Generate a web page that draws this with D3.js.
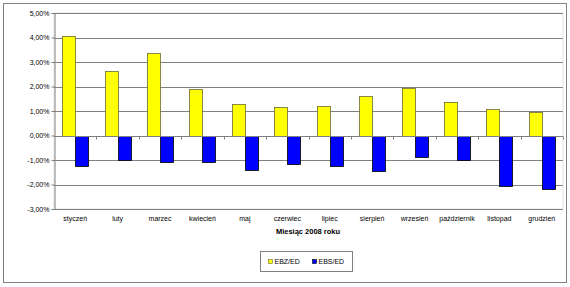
<!DOCTYPE html>
<html>
<head>
<meta charset="utf-8">
<script src="https://cdn.jsdelivr.net/npm/d3@7"></script>
<style>
  body { margin: 0; background: #fff; }
  text { font-family: "Liberation Sans", Arial, sans-serif; }
</style>
</head>
<body>
<div id="chart"></div>
<script>
// Data
const months = ['styczeń', 'luty', 'marzec', 'kwiecień', 'maj', 'czerwiec', 'lipiec',
    'sierpień', 'wrzesień', 'październik', 'listopad', 'grudzień'];
const ebzEd = [4.05, 2.62, 3.36, 1.89, 1.30, 1.15, 1.20, 1.60, 1.93, 1.37, 1.09, 0.96];
const ebsEd = [-1.25, -1.00, -1.10, -1.07, -1.41, -1.17, -1.24, -1.45, -0.87, -1.00, -2.05, -2.18];
const yTicks = [5, 4, 3, 2, 1, 0, -1, -2, -3];
const seriesNames = ['EBZ/ED', 'EBS/ED'];
const seriesColors = ['#ffff00', '#0000ff'];

const width = 570, height = 287;
const plot = { left: 54, right: 563, top: 13, bottom: 209 };

const svg = d3.select('#chart').append('svg')
    .attr('width', width)
    .attr('height', height);

// Outer frame
svg.append('rect')
    .attr('x', 3.5).attr('y', 3.5)
    .attr('width', 563).attr('height', 279)
    .attr('fill', '#fff')
    .attr('stroke', '#808080');

// Scales
const x = d3.scaleBand()
    .domain(months)
    .range([plot.left, plot.right]);

const xInner = d3.scaleBand()
    .domain([0, 1])
    .range([0, x.bandwidth()])
    .paddingInner(0)
    .paddingOuter(0.63);

const y = d3.scaleLinear()
    .domain([-3, 5])
    .range([plot.bottom, plot.top]);

// Plot area border (light)
svg.append('rect')
    .attr('x', plot.left).attr('y', plot.top)
    .attr('width', plot.right - plot.left).attr('height', plot.bottom - plot.top)
    .attr('fill', 'none')
    .attr('stroke', '#e4e4e4');

// Gridlines
svg.append('g')
    .selectAll('line')
    .data(yTicks)
    .enter()
    .append('line')
    .attr('x1', plot.left).attr('x2', plot.right)
    .attr('y1', d => Math.round(y(d)) + 0.5)
    .attr('y2', d => Math.round(y(d)) + 0.5)
    .attr('stroke', '#808080');

// Y axis
const fmt = d => d3.format('.2f')(d).replace('.', ',').replace('−', '-') + '%';
const yAxis = svg.append('g')
    .attr('transform', `translate(${plot.left + 0.5},0)`)
    .call(d3.axisLeft(y).tickValues(yTicks).tickSize(3).tickFormat(fmt));
yAxis.select('.domain').attr('stroke', '#808080');
yAxis.selectAll('.tick line').attr('stroke', '#808080');
yAxis.selectAll('.tick text')
    .attr('font-size', 7)
    .attr('font-family', '"Liberation Sans", Arial, sans-serif')
    .attr('fill', '#000')
    .attr('x', -5);

// Bars
const series = [ebzEd, ebsEd];
series.forEach((vals, si) => {
    svg.append('g')
        .selectAll('rect')
        .data(vals)
        .enter()
        .append('rect')
        .attr('x', (d, i) => Math.round(x(months[i]) + xInner(si)) + 0.5)
        .attr('width', Math.round(xInner.bandwidth()))
        .attr('y', d => Math.round(y(Math.max(0, d))) + 0.5)
        .attr('height', d => Math.abs(Math.round(y(d)) - Math.round(y(0))))
        .attr('fill', seriesColors[si])
        .attr('stroke', si === 0 ? '#6b6b33' : '#000')
        .attr('stroke-width', 0.8);
});

// X axis at zero with tick marks between categories
const zeroY = Math.round(y(0)) + 0.5;
svg.append('line')
    .attr('x1', plot.left).attr('x2', plot.right)
    .attr('y1', zeroY).attr('y2', zeroY)
    .attr('stroke', '#808080');
svg.append('g')
    .selectAll('line')
    .data(months.slice(1).concat(['end']))
    .enter()
    .append('line')
    .attr('x1', (d, i) => Math.round(plot.left + x.step() * (i + 1)) + 0.5)
    .attr('x2', (d, i) => Math.round(plot.left + x.step() * (i + 1)) + 0.5)
    .attr('y1', zeroY).attr('y2', zeroY + 3)
    .attr('stroke', '#808080');

// Category labels
svg.append('g')
    .selectAll('text')
    .data(months)
    .enter()
    .append('text')
    .attr('x', d => x(d) + x.bandwidth() / 2)
    .attr('y', 221)
    .attr('text-anchor', 'middle')
    .attr('font-size', 7)
    .text(d => d);

// Axis title
svg.append('text')
    .attr('x', 308)
    .attr('y', 234)
    .attr('text-anchor', 'middle')
    .attr('font-size', 7.5)
    .attr('font-weight', 'bold')
    .text('Miesiąc 2008 roku');

// Legend
const legend = svg.append('g');
legend.append('rect')
    .attr('x', 260.5).attr('y', 251.5)
    .attr('width', 92).attr('height', 20)
    .attr('fill', '#fff')
    .attr('stroke', '#808080');
const legendX = [268, 312];
seriesNames.forEach((name, i) => {
    legend.append('rect')
        .attr('x', legendX[i] + 0.5).attr('y', 259.5)
        .attr('width', 4).attr('height', 4)
        .attr('fill', seriesColors[i])
        .attr('stroke', i === 0 ? '#6b6b33' : '#000')
        .attr('stroke-width', 0.6);
    legend.append('text')
        .attr('x', legendX[i] + 6.5)
        .attr('y', 264)
        .attr('font-size', 7)
        .text(name);
});
</script>
</body>
</html>
